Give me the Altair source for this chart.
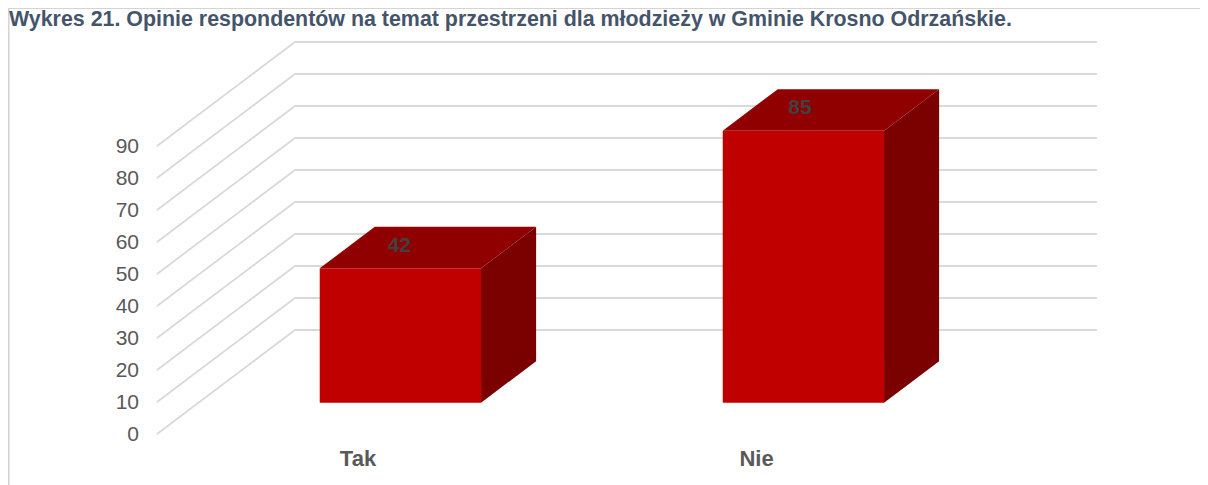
import altair as alt
import pandas as pd

# ---- values
categories = ["Tak", "Nie"]
values = [42, 85]
y_ticks = [0, 10, 20, 30, 40, 50, 60, 70, 80, 90]
title_text = "Wykres 21. Opinie respondentów na temat przestrzeni dla młodzieży w Gminie Krosno Odrzańskie."

# ---- oblique projection of the 3-D box (chart pixels)
W, H = 1192, 477
FLOOR_X0, FLOOR_X1 = 149.0, 951.0      # front edge of the floor
Y0 = 426.0                             # value 0 on the front plane
PX_PER_UNIT = 3.2
DEPTH_X, DEPTH_Y = 138.0, 104.0        # full depth of the chart box
BAR_Z0, BAR_Z1 = 0.301, 0.70           # bars occupy this depth slice
BAR_X0, BAR_STEP, BAR_W = 270.2, 403.0, 161.3
LABEL_X0, LABEL_STEP = 350.0, 398.5
VAL_X0, VAL_STEP = 391.3, 400.7


def v_units(v, z):
    """Value-axis units after shifting by depth z."""
    return v + z * DEPTH_Y / PX_PER_UNIT


def xp(x, z):
    return x + z * DEPTH_X


def px_to_units(py):
    return (Y0 - py) / PX_PER_UNIT


x_scale = alt.Scale(domain=[0, W], range=[0, W], nice=False, zero=False)
y_scale = alt.Scale(domain=[0, H / PX_PER_UNIT], range=[Y0, Y0 - H], nice=False, zero=False)
X = lambda f: alt.X(f, type="quantitative", scale=x_scale, axis=None)
Y = lambda f: alt.Y(f, type="quantitative", scale=y_scale, axis=None)

# ---- gridlines: one polyline per tick
grid_rows = []
for t in y_ticks:
    grid_rows += [
        {"tick": t, "o": 0, "x": FLOOR_X0, "y": v_units(t, 0)},
        {"tick": t, "o": 1, "x": xp(FLOOR_X0, 1), "y": v_units(t, 1)},
        {"tick": t, "o": 2, "x": xp(FLOOR_X1, 1), "y": v_units(t, 1)},
    ]
grid = alt.Chart(pd.DataFrame(grid_rows)).mark_line(color="#d9d9d9", strokeWidth=1.8).encode(
    x=X("x"), y=Y("y"), detail="tick:N", order="o:Q"
)

# ---- bar faces
front_rows, side_rows, top_rows = [], [], []
for i, (c, v) in enumerate(zip(categories, values)):
    left = BAR_X0 + i * BAR_STEP
    right = left + BAR_W
    front_rows.append({"cat": c, "x": xp(left, BAR_Z0), "x2": xp(right, BAR_Z0),
                       "y": v_units(v, BAR_Z0), "y2": v_units(0, BAR_Z0)})
    side_rows += [
        {"cat": c, "x": xp(right, BAR_Z0), "y": v_units(v, BAR_Z0), "y2": v_units(0, BAR_Z0)},
        {"cat": c, "x": xp(right, BAR_Z1), "y": v_units(v, BAR_Z1), "y2": v_units(0, BAR_Z1)},
    ]
    # top face: parallelogram swept between its lower and upper edges
    lo, hi = v_units(v, BAR_Z0), v_units(v, BAR_Z1)
    top_rows += [
        {"cat": c, "x": xp(left, BAR_Z0), "y": lo, "y2": lo},
        {"cat": c, "x": xp(left, BAR_Z1), "y": hi, "y2": lo},
        {"cat": c, "x": xp(right, BAR_Z0), "y": hi, "y2": lo},
        {"cat": c, "x": xp(right, BAR_Z1), "y": hi, "y2": hi},
    ]

front = alt.Chart(pd.DataFrame(front_rows)).mark_rect(color="#c00000").encode(
    x=X("x"), x2="x2", y=Y("y"), y2="y2")
side = alt.Chart(pd.DataFrame(side_rows)).mark_area(color="#7b0000").encode(
    x=X("x"), y=Y("y"), y2="y2", detail="cat:N")
top = alt.Chart(pd.DataFrame(top_rows)).mark_area(color="#900000").encode(
    x=X("x"), y=Y("y"), y2="y2", detail="cat:N")

# ---- text
tick_df = pd.DataFrame({"t": y_ticks, "x": [FLOOR_X0 - 18] * len(y_ticks)})
tick_txt = alt.Chart(tick_df).mark_text(align="right", baseline="middle", font="Liberation Sans",
                                        fontSize=21, color="#595959", dy=1).encode(
    x=X("x"), y=Y("t"), text="t:Q")

cat_df = pd.DataFrame({"cat": categories,
                       "x": [LABEL_X0 + i * LABEL_STEP for i in range(len(categories))],
                       "y": [-25 / PX_PER_UNIT] * len(categories)})
cat_txt = alt.Chart(cat_df).mark_text(align="center", baseline="middle", font="Liberation Sans",
                                      fontSize=22, fontWeight="bold", color="#595959").encode(
    x=X("x"), y=Y("y"), text="cat:N")

val_df = pd.DataFrame({"v": values,
                       "x": [VAL_X0 + i * VAL_STEP for i in range(len(values))],
                       "y": [v_units(v, (BAR_Z0 + BAR_Z1) / 2) for v in values]})
val_txt = alt.Chart(val_df).mark_text(align="center", baseline="middle", font="Liberation Sans",
                                      fontSize=21, fontWeight="bold", color="#404040", dy=-2).encode(
    x=X("x"), y=Y("y"), text="v:Q")

# ---- frame and heading
frame_df = pd.DataFrame({"o": [0, 1, 2], "x": [0.75, 0.75, W],
                         "y": [px_to_units(H), px_to_units(0.25), px_to_units(0.25)]})
frame = alt.Chart(frame_df).mark_line(color="#d4d4d4", strokeWidth=1.5).encode(
    x=X("x"), y=Y("y"), order="o:Q")

title_df = pd.DataFrame({"t": [title_text], "x": [1.0], "y": [px_to_units(18)]})
title = alt.Chart(title_df).mark_text(align="left", baseline="alphabetic", font="Liberation Sans",
                                      fontSize=21.4, fontWeight="bold", color="#44546a").encode(
    x=X("x"), y=Y("y"), text="t:N")

chart = alt.layer(frame, grid, top, side, front, tick_txt, cat_txt, val_txt, title).properties(
    width=W, height=H, padding=0, background="white",
    autosize=alt.AutoSizeParams(type="none"),
).configure_view(stroke=None)

chart.save("out.html", embed_options={"renderer": "svg", "actions": False})
